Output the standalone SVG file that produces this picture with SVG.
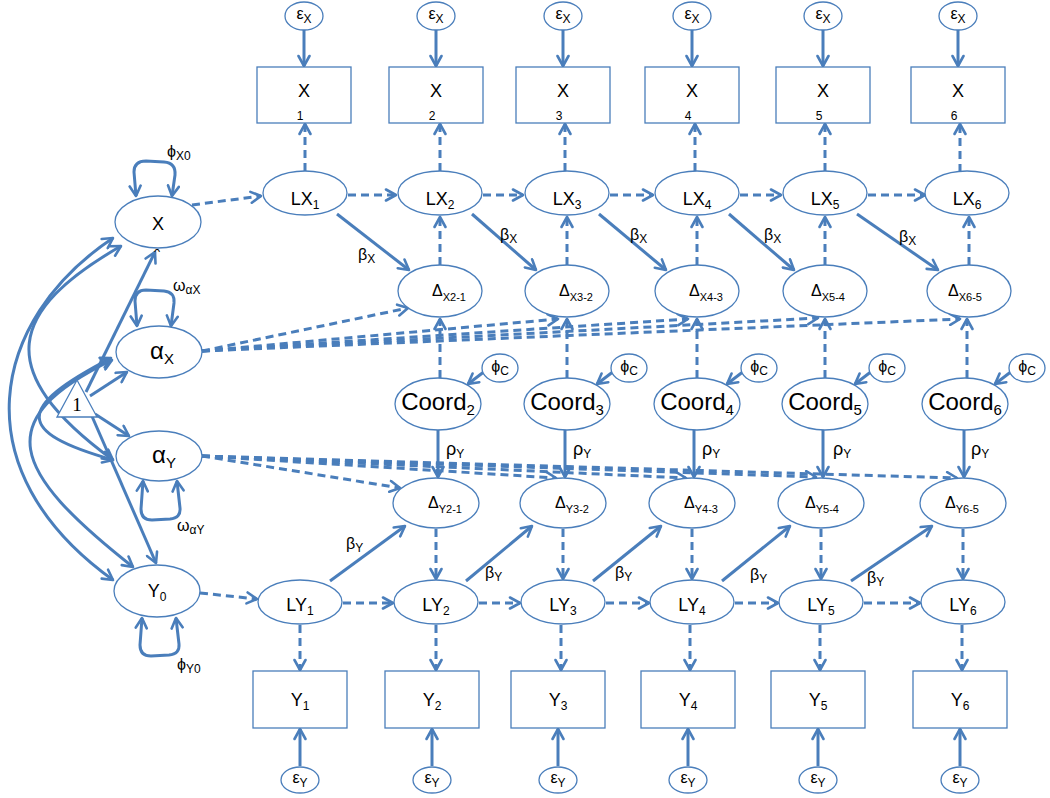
<svg xmlns="http://www.w3.org/2000/svg" width="1050" height="798" viewBox="0 0 1050 798">
<style>
text{font-family:"Liberation Sans",Arial,sans-serif;fill:#000}
.n{fill:#fff;stroke:#4a7ebb;stroke-width:1.3}
.s{fill:none;stroke:#4a7ebb;stroke-width:3;marker-end:url(#ah)}
.d{fill:none;stroke:#4a7ebb;stroke-width:3;stroke-dasharray:8 5;marker-end:url(#ah)}
.c2{fill:none;stroke:#4a7ebb;stroke-width:3;marker-start:url(#ah);marker-end:url(#ah)}
.t18{font-size:18px}
.t16{font-size:16px}
.t24{font-size:24px}
.sb{font-size:12px}
.sb11{font-size:11px}
.sb14{font-size:15px}
.m{text-anchor:middle}
</style>
<defs>
<marker id="ah" viewBox="0 0 14 14" refX="12" refY="7" markerWidth="14" markerHeight="14" markerUnits="userSpaceOnUse" orient="auto-start-reverse">
<path d="M2,1.5 L12,7 L2,12.5" fill="none" stroke="#4a7ebb" stroke-width="2.6" stroke-linecap="round" stroke-linejoin="round"/>
</marker>
<clipPath id="clip0"><rect x="140" y="240" width="40" height="12"/></clipPath>
</defs>

<g id="connectors">
<!-- eps X to boxes -->
<path class="s" d="M304,30 L304,66"/>
<path class="s" d="M436,30 L436,66"/>
<path class="s" d="M563,30 L563,66"/>
<path class="s" d="M692,30 L692,66"/>
<path class="s" d="M823,30 L823,66"/>
<path class="s" d="M958,30 L958,66"/>
<!-- LX to boxes -->
<path class="d" d="M305,171 L305,124"/>
<path class="d" d="M440,171 L440,124"/>
<path class="d" d="M565,171 L565,124"/>
<path class="d" d="M695,171 L695,124"/>
<path class="d" d="M825,171 L825,124"/>
<path class="d" d="M960,172 L960,124"/>
<!-- LX chain -->
<path class="d" d="M192,205 L261,196"/>
<path class="d" d="M348,195 L396,195"/>
<path class="d" d="M483,195 L523,195"/>
<path class="d" d="M610,195 L653,195"/>
<path class="d" d="M740,195 L781,195"/>
<path class="d" d="M868,195 L925,195"/>
<!-- delta X to LX -->
<path class="d" d="M440,265 L440,217"/>
<path class="d" d="M567,265 L567,217"/>
<path class="d" d="M697,265 L697,217"/>
<path class="d" d="M825,265 L825,217"/>
<path class="d" d="M969,265 L969,217"/>
<!-- beta X diagonals -->
<path class="s" d="M337,214 L409,270"/>
<path class="s" d="M472,214 L536,270"/>
<path class="s" d="M599,214 L666,270"/>
<path class="s" d="M729,214 L794,270"/>
<path class="s" d="M857,214 L938,270"/>
<!-- Coord to delta X -->
<path class="d" d="M440,378 L440,319"/>
<path class="d" d="M567,378 L567,319"/>
<path class="d" d="M697,378 L697,319"/>
<path class="d" d="M825,378 L825,319"/>
<path class="d" d="M967,378 L967,319"/>
<!-- phi C to Coord -->
<path class="s" d="M485,371 L468,384"/>
<path class="s" d="M614,371 L597,384"/>
<path class="s" d="M744,371 L727,384"/>
<path class="s" d="M872,371 L855,384"/>
<path class="s" d="M1012,371 L995,384"/>
<!-- Coord to delta Y -->
<path class="s" d="M438,430 L438,477"/>
<path class="s" d="M565,430 L565,477"/>
<path class="s" d="M694,430 L694,477"/>
<path class="s" d="M823,430 L823,477"/>
<path class="s" d="M964,430 L964,477"/>
<!-- delta Y to LY -->
<path class="d" d="M436,529 L436,579"/>
<path class="d" d="M563,529 L563,579"/>
<path class="d" d="M692,529 L692,579"/>
<path class="d" d="M821,529 L821,579"/>
<path class="d" d="M963,529 L963,579"/>
<!-- beta Y diagonals -->
<path class="s" d="M330,581 L405,526"/>
<path class="s" d="M466,581 L532,526"/>
<path class="s" d="M593,581 L661,526"/>
<path class="s" d="M722,581 L790,526"/>
<path class="s" d="M851,581 L932,526"/>
<!-- LY chain -->
<path class="d" d="M200,593 L257,599"/>
<path class="d" d="M343,603 L393,603"/>
<path class="d" d="M479,603 L520,603"/>
<path class="d" d="M606,603 L649,603"/>
<path class="d" d="M735,603 L778,603"/>
<path class="d" d="M864,603 L920,603"/>
<!-- LY to Y boxes -->
<path class="d" d="M300,625 L300,670"/>
<path class="d" d="M436,625 L436,670"/>
<path class="d" d="M561,625 L561,670"/>
<path class="d" d="M690,625 L690,670"/>
<path class="d" d="M820,625 L820,670"/>
<path class="d" d="M962,625 L962,670"/>
<!-- eps Y to Y boxes -->
<path class="s" d="M300,766 L300,729"/>
<path class="s" d="M432,766 L432,729"/>
<path class="s" d="M558,766 L558,729"/>
<path class="s" d="M688,766 L688,729"/>
<path class="s" d="M818,766 L818,729"/>
<path class="s" d="M960,766 L960,729"/>
<!-- alpha X fans -->
<path class="d" d="M202,351 L408,308"/>
<path class="d" d="M202,351 L558,319"/>
<path class="d" d="M202,351 L688,319"/>
<path class="d" d="M202,351 L818,318"/>
<path class="d" d="M202,351 L960,319"/>
<!-- alpha Y fans -->
<path class="d" d="M202,456 L400,488"/>
<path class="d" d="M202,456 L556,478"/>
<path class="d" d="M202,456 L686,478"/>
<path class="d" d="M202,456 L816,477"/>
<path class="d" d="M202,456 L957,478"/>
<!-- self loops -->
<path class="c2" d="M136,196 L134,172 Q134,161 146,161 L164,162 Q176,163 175,175 L172,196"/>
<path class="c2" d="M137,326 L135,301 Q135,290 146,290 L164,291 Q175,292 174,303 L171,326"/>
<path class="c2" d="M143,481 L141,509 Q141,520 152,520 L170,519 Q181,518 180,508 L177,481"/>
<path class="c2" d="M142,618 L140,645 Q140,656 151,656 L169,655 Q180,654 179,644 L176,618"/>
<!-- covariances -->
<path class="c2" d="M113,238 C -10,320 -40,470 113,580"/>
<path class="c2" d="M121,246 C 10,310 -10,370 113,460"/>
<path class="c2" d="M111,358 C 15,408 15,432 113,460"/>
<path class="c2" d="M112,360 C -10,420 10,470 133,567"/>
<!-- triangle paths -->
<path class="s" d="M86,392 L155,252"/>
<path class="s" d="M90,396 L127,372"/>
<path class="s" d="M95,414 L129,436"/>
<path class="s" d="M91,414 L156,563"/>
</g>

<!-- left nodes -->
<g id="X0"><ellipse class="n" cx="158" cy="222" rx="43" ry="26"/><text class="t18 m" x="158" y="230">X</text><text class="sb m" x="157" y="258" clip-path="url(#clip0)">0</text></g>
<g id="aX"><ellipse class="n" cx="159" cy="352" rx="43" ry="26"/><text class="t24" x="150" y="359">α<tspan class="sb14" dy="5">X</tspan></text></g>
<g id="aY"><ellipse class="n" cx="159" cy="456" rx="43" ry="25"/><text class="t24" x="152" y="463">α<tspan class="sb14" dy="5">Y</tspan></text></g>
<g id="Y0"><ellipse class="n" cx="157" cy="591" rx="43" ry="26"/><text class="t18 m" x="157" y="597">Y<tspan class="sb" dy="4">0</tspan></text></g>
<g id="one"><polygon class="n" points="57,417 77,380 97,417"/><text x="77" y="411" style="font-family:'Liberation Serif',serif;font-size:19px" text-anchor="middle">1</text></g>
<g id="labels-left">
<text class="t16" x="167" y="157">ϕ<tspan class="sb" dy="3">X0</tspan></text>
<text class="t16" x="173" y="291">ω<tspan class="sb" dy="3">αX</tspan></text>
<text class="t16" x="177" y="531">ω<tspan class="sb" dy="3">αY</tspan></text>
<text class="t16" x="177" y="670">ϕ<tspan class="sb" dy="3">Y0</tspan></text>
</g>

<!-- eps X -->
<g id="eX1"><ellipse class="n" cx="304" cy="16" rx="19" ry="14"/><text class="t16 m" x="304" y="19">ε<tspan class="sb" dy="4">X</tspan></text></g>
<g id="eX2"><ellipse class="n" cx="436" cy="16" rx="19" ry="14"/><text class="t16 m" x="436" y="19">ε<tspan class="sb" dy="4">X</tspan></text></g>
<g id="eX3"><ellipse class="n" cx="563" cy="16" rx="19" ry="14"/><text class="t16 m" x="563" y="19">ε<tspan class="sb" dy="4">X</tspan></text></g>
<g id="eX4"><ellipse class="n" cx="692" cy="16" rx="19" ry="14"/><text class="t16 m" x="692" y="19">ε<tspan class="sb" dy="4">X</tspan></text></g>
<g id="eX5"><ellipse class="n" cx="823" cy="16" rx="19" ry="14"/><text class="t16 m" x="823" y="19">ε<tspan class="sb" dy="4">X</tspan></text></g>
<g id="eX6"><ellipse class="n" cx="958" cy="16" rx="19" ry="14"/><text class="t16 m" x="958" y="19">ε<tspan class="sb" dy="4">X</tspan></text></g>

<!-- X boxes -->
<g id="Xb1"><rect class="n" x="257" y="67" width="94" height="56"/><text class="t18 m" x="304" y="97">X</text><text class="sb m" x="300" y="120">1</text></g>
<g id="Xb2"><rect class="n" x="389" y="67" width="94" height="56"/><text class="t18 m" x="436" y="97">X</text><text class="sb m" x="432" y="120">2</text></g>
<g id="Xb3"><rect class="n" x="516" y="67" width="94" height="56"/><text class="t18 m" x="563" y="97">X</text><text class="sb m" x="559" y="120">3</text></g>
<g id="Xb4"><rect class="n" x="645" y="67" width="94" height="56"/><text class="t18 m" x="692" y="97">X</text><text class="sb m" x="688" y="120">4</text></g>
<g id="Xb5"><rect class="n" x="776" y="67" width="94" height="56"/><text class="t18 m" x="823" y="97">X</text><text class="sb m" x="819" y="120">5</text></g>
<g id="Xb6"><rect class="n" x="911" y="67" width="94" height="56"/><text class="t18 m" x="958" y="97">X</text><text class="sb m" x="954" y="120">6</text></g>

<!-- LX -->
<g id="LX1"><ellipse class="n" cx="305" cy="193" rx="42" ry="22"/><text class="t18 m" x="305" y="205">LX<tspan class="sb" dy="4">1</tspan></text></g>
<g id="LX2"><ellipse class="n" cx="440" cy="193" rx="42" ry="22"/><text class="t18 m" x="440" y="205">LX<tspan class="sb" dy="4">2</tspan></text></g>
<g id="LX3"><ellipse class="n" cx="567" cy="193" rx="42" ry="22"/><text class="t18 m" x="567" y="205">LX<tspan class="sb" dy="4">3</tspan></text></g>
<g id="LX4"><ellipse class="n" cx="697" cy="193" rx="42" ry="22"/><text class="t18 m" x="697" y="205">LX<tspan class="sb" dy="4">4</tspan></text></g>
<g id="LX5"><ellipse class="n" cx="825" cy="193" rx="42" ry="22"/><text class="t18 m" x="825" y="205">LX<tspan class="sb" dy="4">5</tspan></text></g>
<g id="LX6"><ellipse class="n" cx="967" cy="193" rx="42" ry="22"/><text class="t18 m" x="967" y="205">LX<tspan class="sb" dy="4">6</tspan></text></g>

<!-- beta X labels -->
<g id="bX">
<text class="t16" x="358" y="260">β<tspan class="sb" dy="3">X</tspan></text>
<text class="t16" x="500" y="240">β<tspan class="sb" dy="3">X</tspan></text>
<text class="t16" x="630" y="240">β<tspan class="sb" dy="3">X</tspan></text>
<text class="t16" x="764" y="240">β<tspan class="sb" dy="3">X</tspan></text>
<text class="t16" x="899" y="242">β<tspan class="sb" dy="3">X</tspan></text>
</g>

<!-- delta X -->
<g id="DX2"><ellipse class="n" cx="440" cy="291" rx="42" ry="26"/><text class="t16" x="432" y="296">Δ<tspan class="sb11" dy="5">X2-1</tspan></text></g>
<g id="DX3"><ellipse class="n" cx="567" cy="291" rx="42" ry="26"/><text class="t16" x="559" y="296">Δ<tspan class="sb11" dy="5">X3-2</tspan></text></g>
<g id="DX4"><ellipse class="n" cx="697" cy="291" rx="42" ry="26"/><text class="t16" x="689" y="296">Δ<tspan class="sb11" dy="5">X4-3</tspan></text></g>
<g id="DX5"><ellipse class="n" cx="825" cy="291" rx="42" ry="26"/><text class="t16" x="811" y="296">Δ<tspan class="sb11" dy="5">X5-4</tspan></text></g>
<g id="DX6"><ellipse class="n" cx="969" cy="291" rx="42" ry="26"/><text class="t16" x="948" y="296">Δ<tspan class="sb11" dy="5">X6-5</tspan></text></g>

<!-- phi C -->
<g id="pC2"><ellipse class="n" cx="500" cy="368" rx="18" ry="14"/><text class="t16 m" x="500" y="372">ϕ<tspan class="sb" dy="3">C</tspan></text></g>
<g id="pC3"><ellipse class="n" cx="629" cy="368" rx="18" ry="14"/><text class="t16 m" x="629" y="372">ϕ<tspan class="sb" dy="3">C</tspan></text></g>
<g id="pC4"><ellipse class="n" cx="759" cy="368" rx="18" ry="14"/><text class="t16 m" x="759" y="372">ϕ<tspan class="sb" dy="3">C</tspan></text></g>
<g id="pC5"><ellipse class="n" cx="887" cy="368" rx="18" ry="14"/><text class="t16 m" x="887" y="372">ϕ<tspan class="sb" dy="3">C</tspan></text></g>
<g id="pC6"><ellipse class="n" cx="1027" cy="368" rx="18" ry="14"/><text class="t16 m" x="1027" y="372">ϕ<tspan class="sb" dy="3">C</tspan></text></g>

<!-- Coord -->
<g id="C2"><ellipse class="n" cx="438" cy="404" rx="43" ry="26"/><text class="t24 m" x="438" y="410">Coord<tspan class="sb14" dy="5">2</tspan></text></g>
<g id="C3"><ellipse class="n" cx="567" cy="404" rx="43" ry="26"/><text class="t24 m" x="567" y="410">Coord<tspan class="sb14" dy="5">3</tspan></text></g>
<g id="C4"><ellipse class="n" cx="697" cy="404" rx="43" ry="26"/><text class="t24 m" x="697" y="410">Coord<tspan class="sb14" dy="5">4</tspan></text></g>
<g id="C5"><ellipse class="n" cx="825" cy="404" rx="43" ry="26"/><text class="t24 m" x="825" y="410">Coord<tspan class="sb14" dy="5">5</tspan></text></g>
<g id="C6"><ellipse class="n" cx="965" cy="404" rx="43" ry="26"/><text class="t24 m" x="965" y="410">Coord<tspan class="sb14" dy="5">6</tspan></text></g>

<!-- rho labels -->
<g id="rho">
<text class="t18" x="446" y="455">ρ<tspan class="sb" dy="3">Y</tspan></text>
<text class="t18" x="573" y="455">ρ<tspan class="sb" dy="3">Y</tspan></text>
<text class="t18" x="702" y="455">ρ<tspan class="sb" dy="3">Y</tspan></text>
<text class="t18" x="833" y="455">ρ<tspan class="sb" dy="3">Y</tspan></text>
<text class="t18" x="971" y="455">ρ<tspan class="sb" dy="3">Y</tspan></text>
</g>

<!-- delta Y -->
<g id="DY2"><ellipse class="n" cx="436" cy="503" rx="43" ry="25"/><text class="t16" x="428" y="508">Δ<tspan class="sb11" dy="5">Y2-1</tspan></text></g>
<g id="DY3"><ellipse class="n" cx="563" cy="503" rx="43" ry="25"/><text class="t16" x="555" y="508">Δ<tspan class="sb11" dy="5">Y3-2</tspan></text></g>
<g id="DY4"><ellipse class="n" cx="692" cy="503" rx="43" ry="25"/><text class="t16" x="684" y="508">Δ<tspan class="sb11" dy="5">Y4-3</tspan></text></g>
<g id="DY5"><ellipse class="n" cx="821" cy="503" rx="43" ry="25"/><text class="t16" x="805" y="508">Δ<tspan class="sb11" dy="5">Y5-4</tspan></text></g>
<g id="DY6"><ellipse class="n" cx="963" cy="503" rx="43" ry="25"/><text class="t16" x="945" y="508">Δ<tspan class="sb11" dy="5">Y6-5</tspan></text></g>

<!-- beta Y labels -->
<g id="bY">
<text class="t16" x="346" y="549">β<tspan class="sb" dy="3">Y</tspan></text>
<text class="t16" x="485" y="578">β<tspan class="sb" dy="3">Y</tspan></text>
<text class="t16" x="615" y="578">β<tspan class="sb" dy="3">Y</tspan></text>
<text class="t16" x="750" y="580">β<tspan class="sb" dy="3">Y</tspan></text>
<text class="t16" x="867" y="583">β<tspan class="sb" dy="3">Y</tspan></text>
</g>

<!-- LY -->
<g id="LY1"><ellipse class="n" cx="300" cy="602" rx="42" ry="22"/><text class="t18 m" x="300" y="611">LY<tspan class="sb" dy="4">1</tspan></text></g>
<g id="LY2"><ellipse class="n" cx="436" cy="602" rx="42" ry="22"/><text class="t18 m" x="436" y="611">LY<tspan class="sb" dy="4">2</tspan></text></g>
<g id="LY3"><ellipse class="n" cx="563" cy="602" rx="42" ry="22"/><text class="t18 m" x="563" y="611">LY<tspan class="sb" dy="4">3</tspan></text></g>
<g id="LY4"><ellipse class="n" cx="692" cy="602" rx="42" ry="22"/><text class="t18 m" x="692" y="611">LY<tspan class="sb" dy="4">4</tspan></text></g>
<g id="LY5"><ellipse class="n" cx="821" cy="602" rx="42" ry="22"/><text class="t18 m" x="821" y="611">LY<tspan class="sb" dy="4">5</tspan></text></g>
<g id="LY6"><ellipse class="n" cx="963" cy="602" rx="42" ry="22"/><text class="t18 m" x="963" y="611">LY<tspan class="sb" dy="4">6</tspan></text></g>

<!-- Y boxes -->
<g id="Yb1"><rect class="n" x="253" y="671" width="94" height="57"/><text class="t18 m" x="300" y="706">Y<tspan class="sb" dy="4">1</tspan></text></g>
<g id="Yb2"><rect class="n" x="385" y="671" width="94" height="57"/><text class="t18 m" x="432" y="706">Y<tspan class="sb" dy="4">2</tspan></text></g>
<g id="Yb3"><rect class="n" x="511" y="671" width="94" height="57"/><text class="t18 m" x="558" y="706">Y<tspan class="sb" dy="4">3</tspan></text></g>
<g id="Yb4"><rect class="n" x="641" y="671" width="94" height="57"/><text class="t18 m" x="688" y="706">Y<tspan class="sb" dy="4">4</tspan></text></g>
<g id="Yb5"><rect class="n" x="771" y="671" width="94" height="57"/><text class="t18 m" x="818" y="706">Y<tspan class="sb" dy="4">5</tspan></text></g>
<g id="Yb6"><rect class="n" x="913" y="671" width="94" height="57"/><text class="t18 m" x="960" y="706">Y<tspan class="sb" dy="4">6</tspan></text></g>

<!-- eps Y -->
<g id="eY1"><ellipse class="n" cx="300" cy="780" rx="19" ry="13"/><text class="t16 m" x="300" y="783">ε<tspan class="sb" dy="4">Y</tspan></text></g>
<g id="eY2"><ellipse class="n" cx="432" cy="780" rx="19" ry="13"/><text class="t16 m" x="432" y="783">ε<tspan class="sb" dy="4">Y</tspan></text></g>
<g id="eY3"><ellipse class="n" cx="558" cy="780" rx="19" ry="13"/><text class="t16 m" x="558" y="783">ε<tspan class="sb" dy="4">Y</tspan></text></g>
<g id="eY4"><ellipse class="n" cx="688" cy="780" rx="19" ry="13"/><text class="t16 m" x="688" y="783">ε<tspan class="sb" dy="4">Y</tspan></text></g>
<g id="eY5"><ellipse class="n" cx="818" cy="780" rx="19" ry="13"/><text class="t16 m" x="818" y="783">ε<tspan class="sb" dy="4">Y</tspan></text></g>
<g id="eY6"><ellipse class="n" cx="960" cy="780" rx="19" ry="13"/><text class="t16 m" x="960" y="783">ε<tspan class="sb" dy="4">Y</tspan></text></g>
</svg>
